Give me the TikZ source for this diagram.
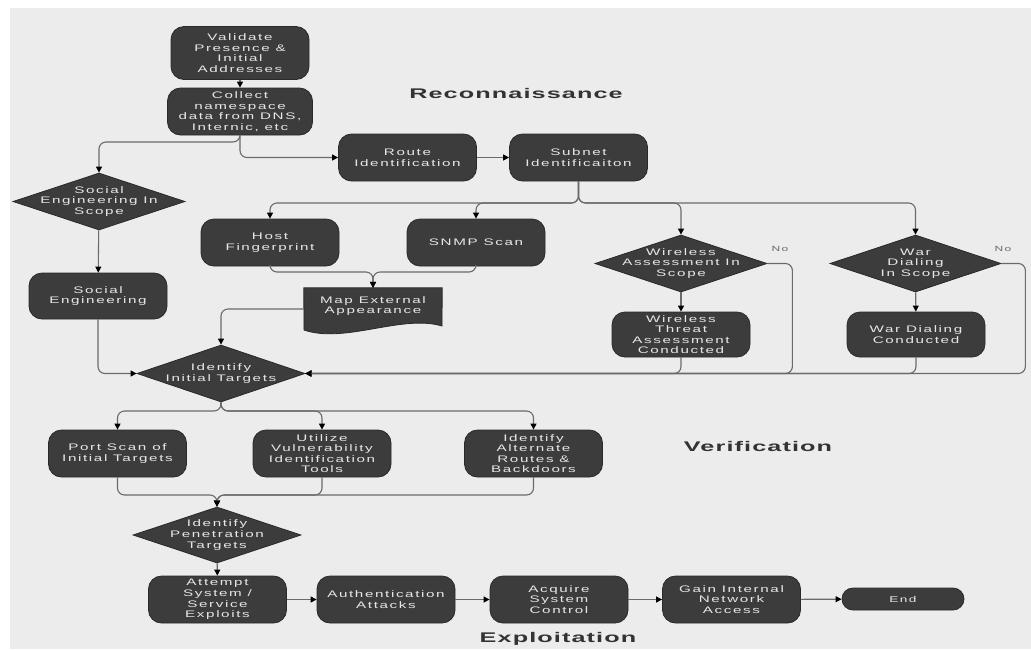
\documentclass[tikz,border=0pt]{standalone}
\usepackage{fontspec}
\usetikzlibrary{arrows.meta,shapes.geometric}

\newfontfamily\boxfont[FakeStretch=1.6,LetterSpace=17]{Liberation Sans}
\newfontfamily\headfont[FakeStretch=1.8,LetterSpace=8]{Liberation Sans}

\definecolor{bg}{HTML}{ECECEC}
\definecolor{boxfill}{HTML}{3C3C3C}
\definecolor{boxline}{HTML}{2A2A2A}
\definecolor{boxtext}{HTML}{E6E6E6}
\definecolor{wire}{HTML}{6A6A6A}
\definecolor{headtext}{HTML}{333333}

\tikzset{
  boxtxt/.style={align=center, text=boxtext, inner sep=0pt,
    font=\boxfont\fontsize{9.5}{10.6}\selectfont},
  proc/.style={boxtxt, rectangle, rounded corners=13pt, fill=boxfill,
    draw=boxline, line width=0.8pt, minimum width=138pt, minimum height=47pt,
    inner sep=1pt},
  decision/.style={diamond, fill=boxfill, draw=boxline, line width=0.8pt,
    inner sep=0pt},
  conn/.style={draw=wire, line width=1.1pt, rounded corners=7pt,
    -{Triangle[length=6pt,width=6pt,color=black]}},
  phase/.style={text=headtext, inner sep=0pt,
    font=\headfont\bfseries\fontsize{14}{14}\selectfont},
  nolabel/.style={text=wire, inner sep=0pt,
    font=\boxfont\fontsize{7.5}{8}\selectfont},
}

\begin{document}
\begin{tikzpicture}[x=1pt,y=-1pt]
\useasboundingbox (0,0) rectangle (1031,649);
\fill[white] (0,0) rectangle (1031,649);
\fill[bg] (10,8) rectangle (1031,649);

% reconnaissance
\node[proc, minimum height=53pt] (validate) at (240,53) {Validate\\Presence \&\\Initial\\Addresses};
\node[proc, minimum width=145pt] (collect) at (240,111.5) {Collect\\namespace\\data from DNS,\\Internic, etc};
\node[proc] (route) at (407.5,157.5) {Route\\Identification};
\node[proc] (subnet) at (578.5,157.5) {Subnet\\Identificaiton};

\node[decision, minimum width=172pt, minimum height=57pt] (se) at (99,201.5) {};
\node[boxtxt] (se-t) at (se) {Social\\Engineering In\\Scope};
\node[proc, minimum height=46pt] (soceng) at (98,296) {Social\\Engineering};

\node[proc] (host) at (270,242.5) {Host\\Fingerprint};
\node[proc] (snmp) at (476,242.5) {SNMP Scan};

\node[decision, minimum width=172pt, minimum height=57pt] (wl) at (681,263.5) {};
\node[boxtxt] (wl-t) at (wl) {Wireless\\Assessment In\\Scope};
\node[decision, minimum width=171pt, minimum height=57pt] (war) at (915.5,263.5) {};
\node[boxtxt] (war-t) at (war) {War\\Dialing\\In Scope};

\node[proc, minimum height=45pt] (wt) at (681,334.5) {Wireless\\Threat\\Assessment\\Conducted};
\node[proc, minimum height=45pt] (wdc) at (916,334.5) {War Dialing\\Conducted};

% document shape
\node[minimum width=138pt, minimum height=42pt, inner sep=0pt] (map) at (373,309) {};
\filldraw[fill=boxfill, draw=boxline, line width=0.8pt]
  (map.north west) -- (map.north east) -- (442,326)
  .. controls (402,314) and (345,344) .. (304,330) -- cycle;
\node[boxtxt] (map-t) at ([yshift=3pt]map.center) {Map External\\Appearance};

\node[decision, minimum width=168pt, minimum height=57pt] (it) at (221,373.5) {};
\node[boxtxt] (it-t) at (it) {Identify\\Initial Targets};

% verification
\node[proc] (port) at (117.5,453.5) {Port Scan of\\Initial Targets};
\node[proc] (util) at (322,453.5) {Utilize\\Vulnerability\\Identification\\Tools};
\node[proc] (alt) at (533.5,453.5) {Identify\\Alternate\\Routes \&\\Backdoors};

\node[decision, minimum width=168pt, minimum height=56pt] (pen) at (217,535) {};
\node[boxtxt] (pen-t) at (pen) {Identify\\Penetration\\Targets};

% exploitation
\node[proc] (attempt) at (217.5,599.5) {Attempt\\System /\\Service\\Exploits};
\node[proc] (auth) at (386,599.5) {Authentication\\Attacks};
\node[proc] (acquire) at (559,599.5) {Acquire\\System\\Control};
\node[proc] (gain) at (731.5,599.5) {Gain Internal\\Network\\Access};
\node[proc, rounded corners=11pt, minimum width=122pt, minimum height=22pt,
  font=\boxfont\fontsize{8.5}{9}\selectfont] (end) at (903,599) {End};

% phase headings
\node[phase] (h-recon) at (516,93) {Reconnaissance};
\node[phase] (h-verif) at (758,446) {Verification};
\node[phase] (h-exploit) at (558,639) {Exploitation};

\node[nolabel] (no1) at (780,249) {No};
\node[nolabel] (no2) at (1003,249) {No};

% split points and junctions
\coordinate (s1) at (240,142);
\coordinate (s2) at (578.5,203);
\coordinate (j1) at (373,272);
\coordinate (s3) at (221,411);
\coordinate (j2) at (217,495);

% connectors
\draw[conn] (validate) -- (collect);
\draw[conn] (collect.south) -- (s1) -| (se.north);
\draw[conn] (collect.south) |- (route.west);
\draw[conn] (route) -- (subnet);

\draw[conn] (subnet.south) -- (s2) -| (host.north);
\draw[conn] (subnet.south) -- (s2) -| (snmp.north);
\draw[conn] (subnet.south) -- (s2) -| (wl.north);
\draw[conn] (subnet.south) -- (s2) -| (war.north);

\draw[conn] (se) -- (soceng);
\draw[conn] (soceng.south) |- (it.west);

\draw[conn] (host.south) |- (j1) -- (map.north);
\draw[conn] (snmp.south) |- (j1) -- (map.north);
\draw[conn] (map.west) -| (it.north);

\draw[conn] (wl) -- (wt);
\draw[conn] (war) -- (wdc);
\draw[conn] (wt.south) |- (it.east);
\draw[conn] (wdc.south) |- (it.east);
\draw[conn] (wl.east) -- ++(25,0) |- (it.east);
\draw[conn] (war.east) -- ++(24,0) |- (it.east);

\draw[conn] (it.south) -- (s3) -| (port.north);
\draw[conn] (it.south) -- (s3) -| (util.north);
\draw[conn] (it.south) -- (s3) -| (alt.north);

\draw[conn] (port.south) |- (j2) -- (pen.north);
\draw[conn] (util.south) |- (j2) -- (pen.north);
\draw[conn] (alt.south) |- (j2) -- (pen.north);

\draw[conn] (pen) -- (attempt);
\draw[conn] (attempt) -- (auth);
\draw[conn] (auth) -- (acquire);
\draw[conn] (acquire) -- (gain);
\draw[conn] (gain) -- (end);
\end{tikzpicture}
\end{document}
